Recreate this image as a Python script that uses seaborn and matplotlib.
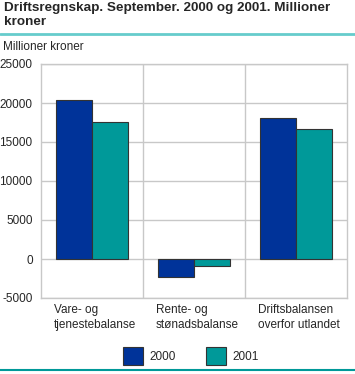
import pandas as pd
import numpy as np
import matplotlib
matplotlib.use("Agg")
import matplotlib.pyplot as plt
import matplotlib.transforms as mtransforms
import seaborn as sns

# Data
categories = ["Vare- og\ntjenestebalanse", "Rente- og\nstønadsbalanse", "Driftsbalansen\noverfor utlandet"]
years = ["2000", "2001"]
values_2000 = [20400, -2350, 18050]
values_2001 = [17600, -900, 16700]
yticks = [-5000, 0, 5000, 10000, 15000, 20000, 25000]

df = pd.DataFrame({
    "Kategori": categories * 2,
    "År": [years[0]] * 3 + [years[1]] * 3,
    "Verdi": values_2000 + values_2001,
})

sns.set_style("white")
plt.rcParams["font.family"] = ["Liberation Sans", "DejaVu Sans"]

fig = plt.figure(figsize=(3.55, 3.74), dpi=100)
ax = fig.add_axes([41 / 355, 1 - 298 / 374, 306 / 355, 234 / 374])

palette = {"2000": "#003399", "2001": "#009999"}
sns.barplot(data=df, x="Kategori", y="Verdi", hue="År", palette=palette,
            width=0.7, edgecolor="#333333", linewidth=0.8, saturation=1,
            ax=ax, zorder=3)

grid_c = "#c8c8c8"
ax.set_ylim(-5000, 25000)
ax.set_xlim(-0.5, 2.5)
ax.set_yticks(yticks)
ax.set_yticklabels([str(t) for t in yticks], fontsize=8.5)
for t in yticks:
    ax.axhline(t, color=grid_c, lw=1, zorder=1)
for x in [0.5, 1.5]:
    ax.axvline(x, color=grid_c, lw=1, zorder=1)
for s in ax.spines.values():
    s.set_color(grid_c)
    s.set_linewidth(1)
ax.tick_params(axis="y", length=5, color=grid_c, width=1, pad=1)
ax.tick_params(axis="x", length=0, pad=4)

# left-aligned category labels
ax.set_xticks([0, 1, 2])
ax.set_xticklabels(categories, fontsize=8.5, ha="left", linespacing=1.35)
offset = mtransforms.ScaledTranslation(-0.38, 0, fig.dpi_scale_trans)
for lab in ax.get_xticklabels():
    lab.set_transform(lab.get_transform() + offset)
ax.set_xlabel("")
ax.set_ylabel("")

ax.legend(loc="upper center", bbox_to_anchor=(0.49, -0.165), ncol=2, frameon=False,
          fontsize=8.5, handlelength=1.7, handleheight=1.9, columnspacing=2.6,
          handletextpad=0.5)

fig.text(4 / 355, 1 - 2 / 374, "Driftsregnskap. September. 2000 og 2001. Millioner\nkroner",
         fontsize=9.7, fontweight="bold", va="top", ha="left", linespacing=1.2)
fig.add_artist(plt.Line2D([0, 1], [1 - 33.5 / 374] * 2, color="#66cccc", lw=2))
fig.text(3 / 355, 1 - 47 / 374, "Millioner kroner", fontsize=8.5, va="center", ha="left")
fig.add_artist(plt.Line2D([0, 1], [1 - 370 / 374] * 2, color="#009999", lw=1.5))

fig.savefig("out.png", dpi=100)
